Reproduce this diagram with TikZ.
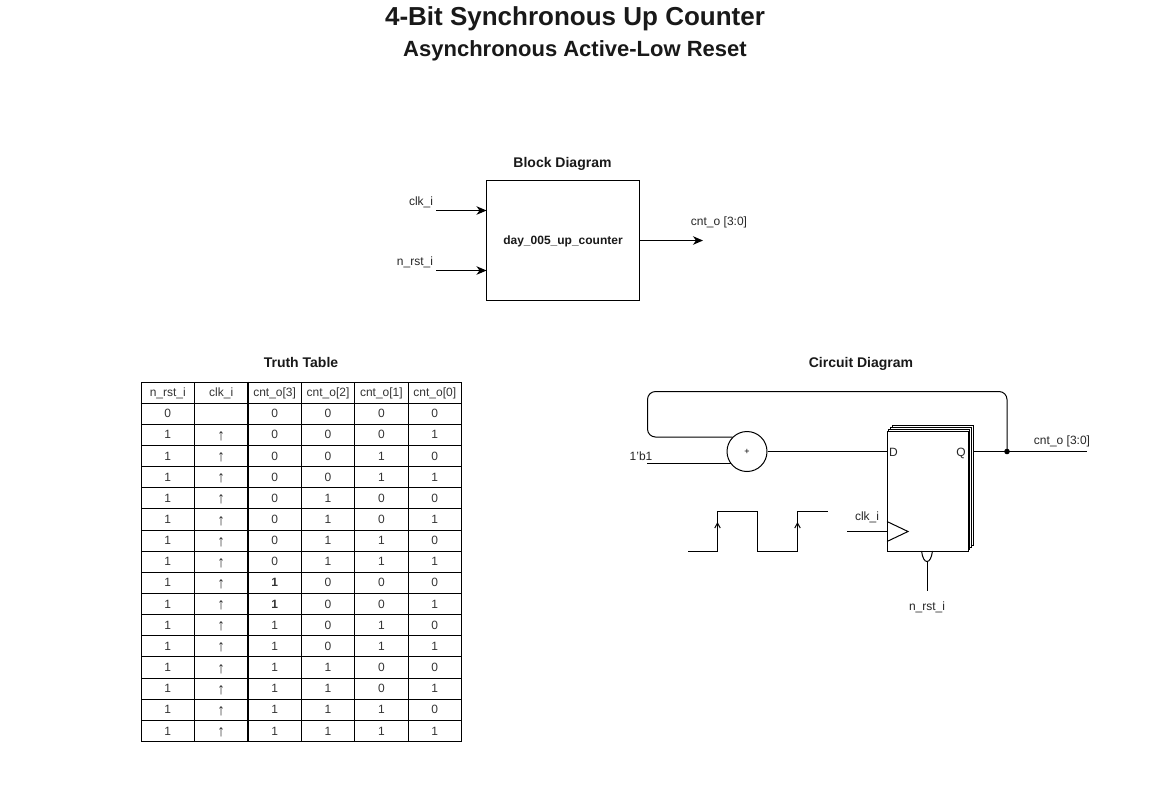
\documentclass[tikz,border=0pt]{standalone}
\usepackage{fontspec}
\setmainfont{Liberation Sans}
\usetikzlibrary{arrows.meta}
\newcommand{\uparw}{\raisebox{-1.5pt}{\fontsize{16}{16}\selectfont ↑}}

\begin{document}
\begin{tikzpicture}[x=1pt, y=-1pt, line width=1pt, every node/.style={inner sep=0pt}]
		\tikzstyle{wire}=[draw, -{Stealth[length=10pt,width=8.5pt,inset=3pt]}]
		\tikzstyle{edgemark}=[-{Straight Barb[length=5pt,width=5.5pt]}]
		\tikzstyle{label}=[font=\fontsize{12}{14}\selectfont, text=black!85, text height=9pt, text depth=3pt]
		\tikzstyle{heading}=[font=\fontsize{14}{16}\selectfont\bfseries, text=black!90, text height=11pt, text depth=3pt]
		\tikzstyle{cell}=[draw, minimum width=53.4pt, minimum height=21.15pt, font=\fontsize{12}{14}\selectfont, text=black!80, text height=10pt, text depth=2pt]
		\tikzstyle{reg}=[draw, fill=white, minimum width=81pt, minimum height=120pt]
		\useasboundingbox (0,0) rectangle (1151,793);
		
		\node[font=\fontsize{26}{30}\selectfont\bfseries, text=black!90](title) at (575,19){4-Bit Synchronous Up Counter};
		\node[font=\fontsize{22}{26}\selectfont\bfseries, text=black!90](subtitle) at (575,50.5){Asynchronous Active-Low Reset};
		
		% block diagram
		\node[heading](block-t) at (562.5,163){Block Diagram};
		\node[draw, minimum width=153pt, minimum height=120pt, font=\fontsize{12}{14}\selectfont\bfseries, text=black!90, text height=10pt, text depth=2pt](block) at (563,240.5){day\_005\_up\_counter};
		\coordinate (clk-a) at (436,210.5);
		\coordinate (clk-b) at (486.5,210.5);
		\coordinate (rst-a) at (436,270.5);
		\coordinate (rst-b) at (486.5,270.5);
		\coordinate (cnt-b) at (703,240.5);
		\node[label](clk-l) at (421,202){clk\_i};
		\node[label](rst-l) at (415,262){n\_rst\_i};
		\node[label](cnt-l) at (719,222){cnt\_o [3:0]};
		\path[wire] (clk-a) -- (clk-b);
		\path[wire] (rst-a) -- (rst-b);
		\path[wire] (block) -- (cnt-b);
		
		% truth table
		\node[heading](table-t) at (301,363){Truth Table};
		\foreach \r/\ra/\rb/\va/\vb/\vc/\vd in {
			0/n\_rst\_i/clk\_i/cnt\_o[3]/cnt\_o[2]/cnt\_o[1]/cnt\_o[0],
			1/0/ /0/0/0/0,
			2/1/\uparw/0/0/0/1,
			3/1/\uparw/0/0/1/0,
			4/1/\uparw/0/0/1/1,
			5/1/\uparw/0/1/0/0,
			6/1/\uparw/0/1/0/1,
			7/1/\uparw/0/1/1/0,
			8/1/\uparw/0/1/1/1,
			9/1/\uparw/\textbf{1}/0/0/0,
			10/1/\uparw/\textbf{1}/0/0/1,
			11/1/\uparw/1/0/1/0,
			12/1/\uparw/1/0/1/1,
			13/1/\uparw/1/1/0/0,
			14/1/\uparw/1/1/0/1,
			15/1/\uparw/1/1/1/0,
			16/1/\uparw/1/1/1/1}
		\foreach \c/\t in {1/\ra,2/\rb,3/\va,4/\vb,5/\vc,6/\vd}
		\node[cell](c-\r-\c) at (\c*53.4+114.4, \r*21.15+392.6){\t};
		\draw[line width=1.6pt] (c-0-2.north east) -- (c-16-2.south east);
		\draw[line width=1.6pt] (c-0-1.south west) -- (c-0-6.south east);
		
		% circuit diagram
		\node[heading](circuit-t) at (861,363){Circuit Diagram};
		\node[reg](reg-3) at (933,485){};
		\node[reg](reg-2) at (931.2,487){};
		\node[reg](reg-1) at (929.4,489){};
		\node[reg](reg) at (927.5,491){};
		\node[draw, circle, minimum size=40pt, font=\fontsize{9}{10}\selectfont](adder) at (747,451.5){+};
		\node[label](reg-d) at (893.5,453){D};
		\node[label](reg-q) at (961,453){Q};
		\node[label](one-l) at (641,457){1'b1};
		\node[label](clk-r) at (867,517){clk\_i};
		\node[label](rst-r) at (927,607){n\_rst\_i};
		\node[label](cnt-r) at (1062,441){cnt\_o [3:0]};
		\coordinate (one-in) at (647,463.5);
		\coordinate (q-out) at (973,451.5);
		\coordinate (cnt-out) at (1087,451.5);
		\coordinate (d-in) at (887,451.5);
		\coordinate (fb-a) at (1007,391.5);
		\coordinate (fb-b) at (647.5,391.5);
		\coordinate (clk-in) at (847,531.5);
		\coordinate (clk-e) at (887,531.5);
		\coordinate (clk-u) at (887,521.5);
		\coordinate (clk-d) at (887,541.5);
		\coordinate (clk-p) at (908,531.5);
		\coordinate (bub-a) at (921.5,551);
		\coordinate (bub-b) at (932.5,551);
		\coordinate (bub-c) at (927,561.5);
		\coordinate (rst-in) at (927,591);
		\node[draw, fill=black, circle, minimum size=4.5pt](dot) at (1007,451.5){};
		\draw (adder) -- (d-in);
		\draw (one-in |- adder.217) -- (adder.217);
		\draw (q-out) -- (cnt-out);
		\draw[rounded corners=8pt] (dot) -- (fb-a) -- (fb-b) -- (fb-b |- adder.135) -- (adder.135);
		\draw (clk-in) -- (clk-e);
		\draw (clk-u) -- (clk-p) -- (clk-d);
		\draw (bub-a) .. controls (922.5,558) and (924.5,561.5) .. (bub-c) .. controls (929.5,561.5) and (931.5,558) .. (bub-b);
		\draw (bub-c) -- (rst-in);
		
		% clock waveform
		\coordinate (wave-a) at (688,551);
		\coordinate (wave-b) at (717.5,551);
		\coordinate (wave-c) at (717.5,511);
		\coordinate (wave-d) at (757.5,511);
		\coordinate (wave-e) at (757.5,551);
		\coordinate (wave-f) at (797.5,551);
		\coordinate (wave-g) at (797.5,511);
		\coordinate (wave-h) at (827.5,511);
		\coordinate (mark-a) at (717.5,522);
		\coordinate (mark-b) at (797.5,522);
		\draw (wave-a) -- (wave-b) -- (wave-c) -- (wave-d) -- (wave-e) -- (wave-f) -- (wave-g) -- (wave-h);
		\draw[edgemark] (wave-b) -- (mark-a);
		\draw[edgemark] (wave-f) -- (mark-b);
\end{tikzpicture}
\end{document}
